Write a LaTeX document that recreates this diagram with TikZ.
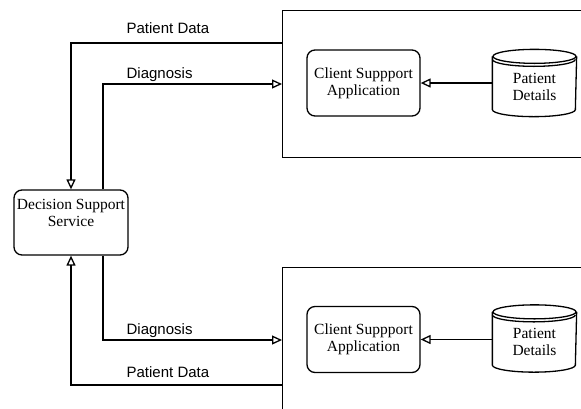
\documentclass[tikz,border=0pt]{standalone}
\usepackage{fontspec}
\setmainfont{Liberation Serif}
\newfontfamily\labelfont{Liberation Sans}
\usetikzlibrary{arrows.meta,calc}
\newcommand\dbcyl[1]{%
  \draw ($(#1.north west)+(0,-7)$) -- ($(#1.south west)+(0,7)$)
     arc[start angle=180,end angle=360,x radius=41.5,y radius=7]
     -- ($(#1.north east)+(0,-7)$);
  \draw ($(#1.north)+(0,-7)$) ellipse [x radius=41.5, y radius=7];
  \draw ($(#1.north west)+(0,-10)$) arc[start angle=180,end angle=360,x radius=41.5,y radius=7];
}
\begin{document}
\begin{tikzpicture}[x=1pt,y=1pt, line width=1.3pt,
  rbox/.style={draw, rounded corners=8pt, align=center, inner sep=0pt,
    minimum width=113pt, minimum height=66pt, font=\fontsize{15.5}{17}\selectfont},
  bigbox/.style={draw, inner sep=0pt, anchor=north west, minimum width=340pt, minimum height=147pt},
  dbnode/.style={inner sep=0pt, minimum width=83pt, minimum height=66pt},
  dbtext/.style={inner sep=0pt, align=center, font=\fontsize{15.5}{17}\selectfont},
  flow/.style={-{Triangle[open,length=10pt,width=9pt]}},
  lbl/.style={font=\labelfont\fontsize{15}{17}\selectfont, anchor=base west, inner sep=0pt}]
\useasboundingbox (0,0) rectangle (581,-408);
\clip (0,0) rectangle (581,-408);

% big boxes
\node[bigbox] (tb) at (282,-10) {};
\node[bigbox, minimum height=200pt] (bb) at (282,-267) {};

% decision support
\node[rbox, minimum width=114pt, minimum height=65pt, text depth=19pt] (dss) at (71,-222.5) {Decision Support\\Service};

% top client
\node[rbox] (csa1) at (363.5,-83) {Client Suppport\\Application};
\node[dbnode] (pd1) at (534.5,-83) {};
\dbcyl{pd1}
\node[dbtext] (pdt1) at (534.5,-86.5) {Patient\\Details};
\draw[flow] (pd1.west) -- (csa1.east);

% bottom client
\node[rbox] (csa2) at (363.5,-339.5) {Client Suppport\\Application};
\node[dbnode] (pd2) at (534.5,-338.5) {};
\dbcyl{pd2}
\node[dbtext] (pdt2) at (534.5,-342) {Patient\\Details};
\draw[flow] (pd2.west |- csa2.east) -- (csa2.east);

% connector coordinates on the big boxes
\coordinate (tPD) at (282,-43);
\coordinate (tDG) at (282,-84);
\coordinate (bDG) at (282,-340);
\coordinate (bPD) at (282,-385);

% top connectors
\draw[flow] (tPD) -| (dss.north);
\draw[flow] ([xshift=32pt]dss.north) |- (tDG);
% bottom connectors
\draw[flow] ([xshift=32pt]dss.south) |- (bDG);
\draw[flow] (bPD) -| (dss.south);

% labels
\node[lbl] (l1) at (126,-33) {Patient Data};
\node[lbl] (l2) at (126,-78) {Diagnosis};
\node[lbl] (l3) at (126,-334) {Diagnosis};
\node[lbl] (l4) at (126,-377) {Patient Data};
\end{tikzpicture}
\end{document}
